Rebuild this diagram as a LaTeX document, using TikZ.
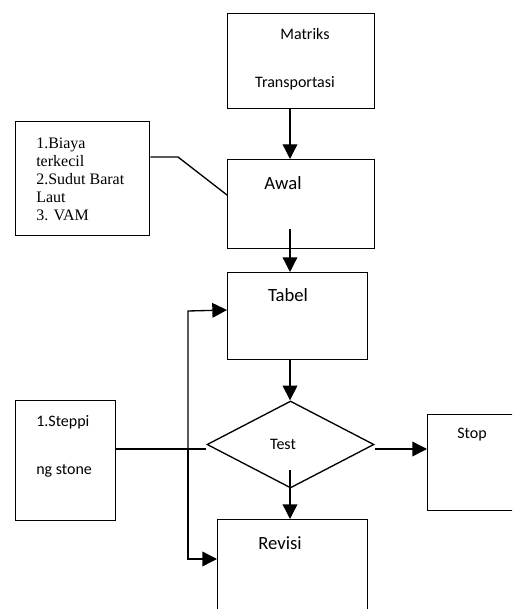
\documentclass[tikz,border=0pt]{standalone}
\usepackage{fontspec}
\setmainfont{Carlito}
\newfontfamily\serifx{Liberation Serif}
\usetikzlibrary{arrows.meta,shapes.geometric,calc}
\begin{document}
\begin{tikzpicture}[x=0.75pt,y=-0.75pt,
  boxx/.style 2 args={draw,line width=1pt,rectangle,anchor=north west,inner sep=0pt,minimum width=#1*0.75pt,minimum height=#2*0.75pt},
  conn/.style={line width=1pt},
  arr/.style={line width=1pt,-{Triangle[length=11pt,width=11pt]}},
  txt/.style={inner sep=0pt,font=\fontsize{12}{14}\selectfont},
  bigtxt/.style={inner sep=0pt,font=\fontsize{14}{16}\selectfont}]
\useasboundingbox (0,0) rectangle (512,609);
\clip (0,0) rectangle (512,609);
% boxes
\node[boxx={147}{95}] (mat) at (227,13) {};
\node[boxx={147}{89}] (awal) at (227,159) {};
\node[boxx={140}{87}] (tab) at (227,272) {};
\node[boxx={134}{114}] (lb) at (15,121) {};
\node[boxx={100}{120}] (ss) at (15,400) {};
\node[boxx={120}{96}] (stop) at (427,414) {};
\node[boxx={150}{120}] (rev) at (217,519) {};
\node[draw,line width=1pt,diamond,inner sep=0pt,minimum width=167*0.75pt,minimum height=87*0.75pt] (dia) at (290.5,444.5) {};
% texts
\node[txt] (t1) at (305,34) {Matriks};
\node[txt] (t2) at (295,83) {Transportasi};
\node[bigtxt] (t3) at (283,183) {Awal};
\node[bigtxt] (t4) at (288,295) {Tabel};
\node[bigtxt] (t5) at (280,543) {Revisi};
\node[txt] (t6) at (283,444) {Test};
\node[txt] (t7) at (472,435) {Stop};
\node[txt,anchor=west] (t8) at (36,422) {1.Steppi};
\node[txt,anchor=west] (t9) at (36,471) {ng stone};
\node[inner sep=0pt,anchor=west,align=left,font=\serifx\fontsize{12}{13.5}\selectfont] (t10) at (36,179.5) {1.Biaya\\terkecil\\2.Sudut Barat\\Laut\\3. VAM};
% connectors
\coordinate (ax) at (290,0);
\coordinate (a1) at (290,229);
\coordinate (a2) at (290,470);
\coordinate (vx) at (188,449);
\draw[arr] (mat.south -| ax) -- (awal.north -| ax);
\draw[arr] (a1) -- (tab.north -| ax);
\draw[conn] (lb.east |- 0,157) -- (178,157) -- (awal.west |- 0,195);
\draw[arr] (tab.south -| ax) -- (dia.north -| ax);
\draw[conn] (ss.east |- vx) -- (dia.west |- vx);
\draw[arr] (dia.east |- vx) -- (stop.west |- vx);
\draw[arr] (a2) -- (rev.north -| ax);
\draw[arr] (vx) -- (188,311) -- (tab.west |- 0,310);
\draw[arr] (vx) -- (188,559) -- (rev.west |- 0,559);
\end{tikzpicture}
\end{document}
